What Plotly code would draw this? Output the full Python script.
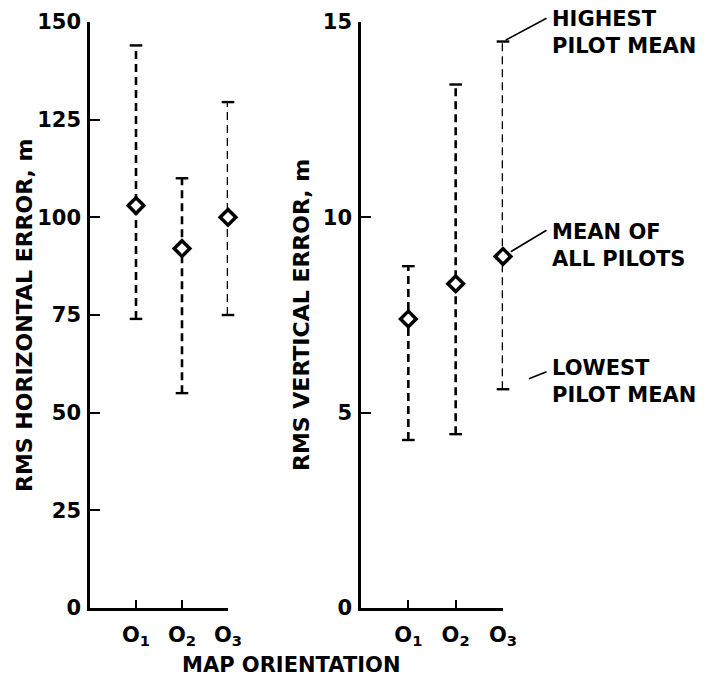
import plotly.graph_objects as go

# Map orientations (x positions 1..3 on each panel)
orientations = [1, 2, 3]
orientation_labels = ["O<sub>1</sub>", "O<sub>2</sub>", "O<sub>3</sub>"]

# RMS horizontal error, m
horiz_mean = [103, 92, 100]
horiz_high = [144, 110, 129.5]
horiz_low = [74, 55, 75]

# RMS vertical error, m
vert_mean = [7.4, 8.3, 9.0]
vert_high = [8.75, 13.4, 14.5]
vert_low = [4.3, 4.45, 5.6]

horiz_ticks = [0, 25, 50, 75, 100, 125, 150]
vert_ticks = [0, 5, 10, 15]

W, H = 708, 686
FONT = "DejaVu Sans"
INK = "black"

fig = go.Figure()


def add_panel(fig, means, highs, lows, xa, ya):
    # dashed range line from lowest to highest pilot mean, with caps
    for x, lo, hi in zip(orientations, lows, highs):
        fig.add_trace(go.Scatter(
            x=[x, x], y=[lo, hi], mode="lines+markers",
            line=dict(color=INK, width=2.6, dash="8px,5px"),
            marker=dict(symbol="line-ew", size=9, line=dict(color=INK, width=2.4)),
            xaxis=xa, yaxis=ya, showlegend=False, cliponaxis=False,
            hoverinfo="skip"))
    # mean of all pilots
    fig.add_trace(go.Scatter(
        x=orientations, y=means, mode="markers",
        marker=dict(symbol="diamond", size=12, color="white",
                    line=dict(color=INK, width=3.5)),
        xaxis=xa, yaxis=ya, showlegend=False, cliponaxis=False))


add_panel(fig, horiz_mean, horiz_high, horiz_low, "x", "y")
add_panel(fig, vert_mean, vert_high, vert_low, "x2", "y2")

ydom = [(H - 608) / H, (H - 22) / H]
tickfont = dict(family=FONT, size=21, color=INK, weight="bold")

xcommon = dict(range=[0, 3], tickvals=orientations, ticktext=orientation_labels,
               ticks="inside", ticklen=8, tickwidth=2, tickcolor=INK,
               showline=True, linecolor=INK, linewidth=2.5,
               showgrid=False, zeroline=False, tickfont=tickfont,
               ticklabelstandoff=6, automargin=False)
ycommon = dict(ticks="inside", ticklen=10, tickwidth=2, tickcolor=INK,
               showline=True, linecolor=INK, linewidth=2.5,
               showgrid=False, zeroline=False, tickfont=tickfont,
               ticklabelstandoff=2, automargin=False)

fig.update_layout(
    template="none",
    width=W, height=H, autosize=False,
    margin=dict(l=0, r=0, t=0, b=0, pad=0),
    paper_bgcolor="white", plot_bgcolor="white",
    xaxis=dict(domain=[90 / W, 228 / W], anchor="y", **xcommon),
    yaxis=dict(domain=ydom, anchor="x", range=[0, 150], tickvals=horiz_ticks, **ycommon),
    xaxis2=dict(domain=[361 / W, 503 / W], anchor="y2", **xcommon),
    yaxis2=dict(domain=ydom, anchor="x2", range=[0, 15], tickvals=vert_ticks, **ycommon),
)

labfont = dict(family=FONT, size=22, color=INK, weight="bold")
notefont = dict(family=FONT, size=21, color=INK, weight="bold")

annotations = [
    dict(text="RMS HORIZONTAL ERROR, m", x=25 / W, y=1 - 315 / H, xref="paper", yref="paper",
         textangle=-90, showarrow=False, font=labfont, xanchor="center", yanchor="middle"),
    dict(text="RMS VERTICAL ERROR, m", x=302 / W, y=1 - 315 / H, xref="paper", yref="paper",
         textangle=-90, showarrow=False, font=labfont, xanchor="center", yanchor="middle"),
    dict(text="MAP ORIENTATION", x=180 / W, y=1 - 665 / H, xref="paper", yref="paper",
         showarrow=False, font=dict(family=FONT, size=21, color=INK, weight="bold"),
         xanchor="left", yanchor="middle"),
]

# callouts on the O3 range of the vertical panel
notes = [
    ("HIGHEST<br>PILOT MEAN", vert_high[2], 45, -24, 3, 32),
    ("MEAN OF<br>ALL PILOTS", vert_mean[2], 45, -27, 9, 245),
    ("LOWEST<br>PILOT MEAN", vert_low[2], 45, -18, 28, 381),
]
for text, yval, ax, ay, standoff, ty in notes:
    annotations.append(dict(
        x=3, y=yval, xref="x2", yref="y2", text=" ", showarrow=True,
        arrowhead=0, arrowwidth=1.6, arrowcolor=INK, ax=ax, ay=ay,
        standoff=standoff, font=dict(size=1)))
    annotations.append(dict(
        text=text, x=550 / W, y=1 - ty / H, xref="paper", yref="paper",
        showarrow=False, align="left", xanchor="left", yanchor="middle",
        font=notefont))

fig.update_layout(annotations=annotations)

fig.write_html("out.html")
